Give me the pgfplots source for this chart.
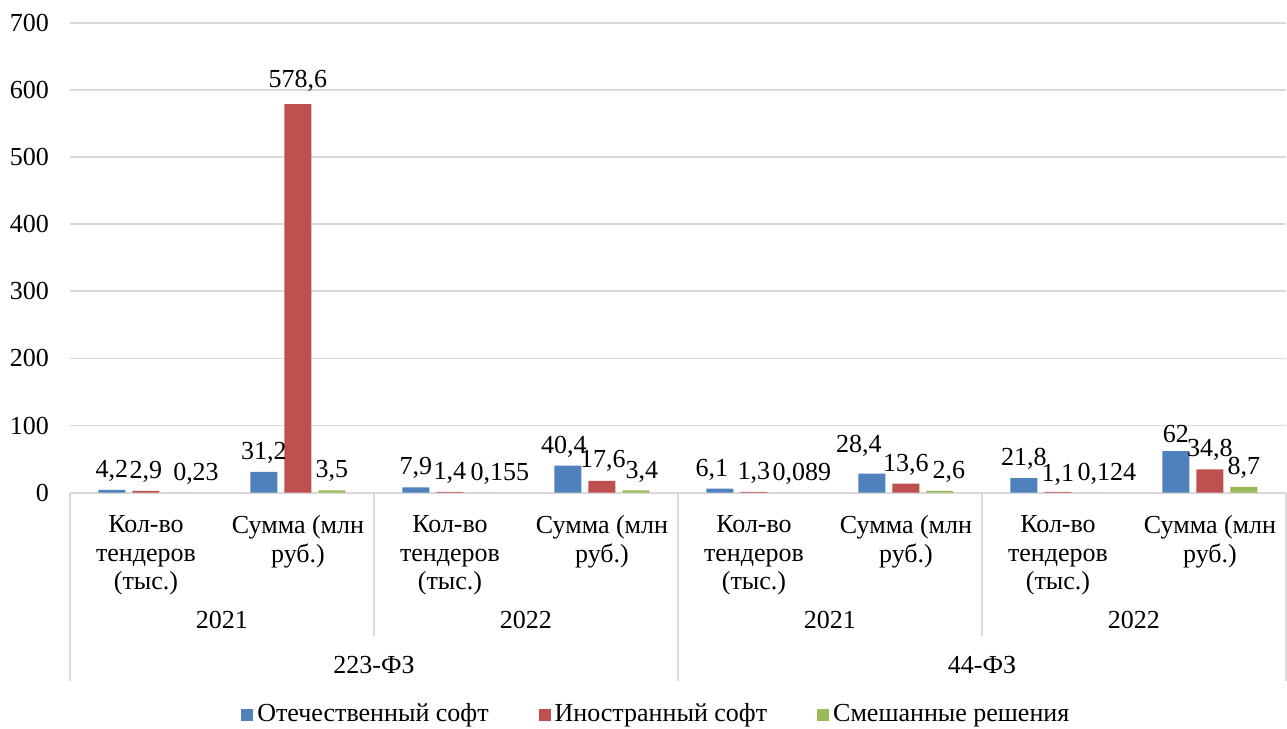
\documentclass[border=0pt]{standalone}
\usepackage{fontspec}
\setmainfont{Liberation Serif}
\usepackage{pgfplots}
\usepackage{pgfplotstable}
\pgfplotsset{compat=1.18}
\definecolor{cblue}{HTML}{4F81BD}
\definecolor{cred}{HTML}{C0504D}
\definecolor{cgreen}{HTML}{9BBB59}
\definecolor{cgrid}{HTML}{D9D9D9}

\pgfplotstableread{
x y lab dx dy
0 4.2 4,2 0 0
1 31.2 31,2 0 0
2 7.9 7,9 0 0
3 40.4 40,4 -2 0
4 6.1 6,1 -4 0
5 28.4 28,4 -6.5 4.5
6 21.8 21,8 0 0
7 62 62 0 0
}\tblblue
\pgfplotstableread{
x y lab dx dy
0 2.9 2,9 0 0
1 578.6 578,6 0 2
2 1.4 1,4 0 0
3 17.6 17,6 0.5 0.5
4 1.3 1,3 0 0
5 13.6 13,6 0 0
6 1.1 1,1 0 -1
7 34.8 34,8 0 0
}\tblred
\pgfplotstableread{
x y lab dx dy
0 0.23 0,23 8 0
1 3.5 3,5 0 0
2 0.155 0,155 8 0
3 3.4 3,4 3 0
4 0.089 0,089 7 0
5 2.6 2,6 4.5 0
6 0.124 0,124 7.5 0
7 8.7 8,7 0 0
}\tblgreen

\begin{document}
\rmfamily\fontsize{13pt}{14.2pt}\selectfont
\begin{tikzpicture}[font=\rmfamily\fontsize{13pt}{14.2pt}\selectfont]
\begin{axis}[
  at={(0,0)}, anchor=south west,
  scale only axis, width=608pt, height=235pt,
  xmin=-0.5, xmax=7.5, ymin=0, ymax=700,
  ytick={0,100,...,700},
  xtick={0,...,7},
  xticklabels={{Кол-во\\тендеров\\(тыс.)},{Сумма (млн\\руб.)},{Кол-во\\тендеров\\(тыс.)},{Сумма (млн\\руб.)},{Кол-во\\тендеров\\(тыс.)},{Сумма (млн\\руб.)},{Кол-во\\тендеров\\(тыс.)},{Сумма (млн\\руб.)}},
  xticklabel style={align=center, yshift=-7pt},
  yticklabel style={xshift=-6pt},
  /pgf/number format/assume math mode=true,
  ymajorgrids, grid style={cgrid, line width=0.9pt},
  axis line style={draw=none},
  major tick length=0pt,
  ybar, bar width=13.5pt,
  clip=false,
  point meta=explicit symbolic,
  nodes near coords={\pgfplotspointmeta},
  every node near coord/.append style={xshift=\dx pt, yshift=2pt+\dy pt, inner sep=2pt},
  legend style={at={(0.483,-0.472)}, anchor=center, draw=none, legend columns=-1,
    /tikz/every even column/.append style={column sep=23pt},
    inner sep=0pt},
  legend image code/.code={\fill[#1] (0pt,-3pt) rectangle (6pt,3pt);},
]
\addplot[fill=cblue, draw=none, bar shift=-17pt, visualization depends on={\thisrow{dx}\as\dx}, visualization depends on={\thisrow{dy}\as\dy}] table[x=x, y=y, meta=lab] {\tblblue};
\addlegendentry{Отечественный софт}
\addplot[fill=cred, draw=none, bar shift=0pt, visualization depends on={\thisrow{dx}\as\dx}, visualization depends on={\thisrow{dy}\as\dy}] table[x=x, y=y, meta=lab] {\tblred};
\addlegendentry{Иностранный софт}
\addplot[fill=cgreen, draw=none, bar shift=17pt, visualization depends on={\thisrow{dx}\as\dx}, visualization depends on={\thisrow{dy}\as\dy}] table[x=x, y=y, meta=lab] {\tblgreen};
\addlegendentry{Смешанные решения}

\draw[cgrid, line width=0.9pt] (axis cs:-0.5,0) -- ([yshift=-94pt]axis cs:-0.5,0);
\draw[cgrid, line width=0.9pt] (axis cs:3.5,0) -- ([yshift=-94pt]axis cs:3.5,0);
\draw[cgrid, line width=0.9pt] (axis cs:7.5,0) -- ([yshift=-94pt]axis cs:7.5,0);
\draw[cgrid, line width=0.9pt] (axis cs:1.5,0) -- ([yshift=-71.5pt]axis cs:1.5,0);
\draw[cgrid, line width=0.9pt] (axis cs:5.5,0) -- ([yshift=-71.5pt]axis cs:5.5,0);
\node at ([yshift=-63.6pt]axis cs:0.5,0) {2021};
\node at ([yshift=-63.6pt]axis cs:2.5,0) {2022};
\node at ([yshift=-63.6pt]axis cs:4.5,0) {2021};
\node at ([yshift=-63.6pt]axis cs:6.5,0) {2022};
\node at ([yshift=-86pt]axis cs:1.5,0) {223-ФЗ};
\node at ([yshift=-86pt]axis cs:5.5,0) {44-ФЗ};
\end{axis}
\pgfresetboundingbox
\path[use as bounding box] (-35pt,-118.15pt) rectangle (608.5pt,246.35pt);
\end{tikzpicture}
\end{document}
